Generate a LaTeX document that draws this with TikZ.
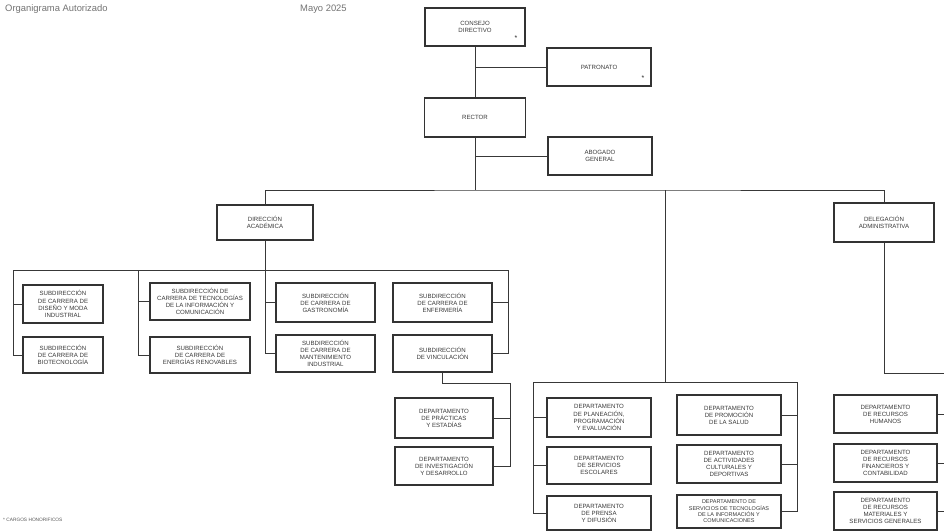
\documentclass[tikz,border=0pt]{standalone}
\usepackage{fontspec}
\setmainfont{Liberation Sans}
\newcommand{\bxfont}{\fontsize{6.1}{7.1}\selectfont}
\newcommand{\smfont}{\fontsize{5.5}{6.4}\selectfont}
\begin{document}
\begin{tikzpicture}[x=1pt,y=-1pt,
  orgbox/.style={draw=black!80, line width=1.2pt, fill=white, inner sep=0pt, align=center,
     text=black!78, font=\bxfont},
  link/.style={draw=black!78, line width=0.9pt},
  hdr/.style={text=black!55, font=\fontsize{9.4}{10}\selectfont, inner sep=0pt, anchor=base west}]
\useasboundingbox (0,0) rectangle (944,532);
\fill[white] (0,0) rectangle (944,532);

% header and footer
\node[hdr] (t1) at (5,12) {Organigrama Autorizado};
\node[hdr] (t2) at (300,12) {Mayo 2025};
\node[text=black!65, font=\fontsize{4.8}{5}\selectfont, inner sep=0pt, anchor=base west] (foot) at (3,521) {* CARGOS HONORIFICOS};

% top level
\node[orgbox, minimum width=100, minimum height=38] (cd) at (475,27) {CONSEJO\\DIRECTIVO};
\node[orgbox, minimum width=104, minimum height=38] (pat) at (599,67) {PATRONATO};
\node[orgbox, minimum width=101, minimum height=39] (rec) at (475,117.5) {RECTOR};
\node[orgbox, minimum width=104, minimum height=38] (abo) at (600,156) {ABOGADO\\GENERAL};
\node[font=\fontsize{7}{7}\selectfont, text=black!85, inner sep=0pt] (ast1) at (516,38) {*};
\node[font=\fontsize{7}{7}\selectfont, text=black!85, inner sep=0pt] (ast2) at (643,78) {*};

% second level
\node[orgbox, minimum width=96, minimum height=35] (da) at (265,222.5) {DIRECCIÓN\\ACADÉMICA};
\node[orgbox, minimum width=100, minimum height=39] (del) at (884,222.5) {DELEGACIÓN\\ADMINISTRATIVA};

% academic subdirections
\node[orgbox, minimum width=80, minimum height=38] (a1) at (63,304) {SUBDIRECCIÓN\\DE CARRERA DE\\DISEÑO Y MODA\\INDUSTRIAL};
\node[orgbox, minimum width=80, minimum height=36] (a2) at (63,355) {SUBDIRECCIÓN\\DE CARRERA DE\\BIOTECNOLOGÍA};
\node[orgbox, minimum width=100, minimum height=37] (b1) at (200,301.5) {SUBDIRECCIÓN DE\\CARRERA DE TECNOLOGÍAS\\DE LA INFORMACIÓN Y\\COMUNICACIÓN};
\node[orgbox, minimum width=100, minimum height=36] (b2) at (200,355) {SUBDIRECCIÓN\\DE CARRERA DE\\ENERGÍAS RENOVABLES};
\node[orgbox, minimum width=99, minimum height=39] (c1) at (325.5,302.5) {SUBDIRECCIÓN\\DE CARRERA DE\\GASTRONOMÍA};
\node[orgbox, minimum width=99, minimum height=37] (c2) at (325.5,353.5) {SUBDIRECCIÓN\\DE CARRERA DE\\MANTENIMIENTO\\INDUSTRIAL};
\node[orgbox, minimum width=99, minimum height=39] (d1) at (442.5,302.5) {SUBDIRECCIÓN\\DE CARRERA DE\\ENFERMERÍA};
\node[orgbox, minimum width=99, minimum height=37] (d2) at (442.5,353.5) {SUBDIRECCIÓN\\DE VINCULACIÓN};

% vinculacion departments
\node[orgbox, minimum width=98, minimum height=40] (v1) at (444,418) {DEPARTAMENTO\\DE PRÁCTICAS\\Y ESTADÍAS};
\node[orgbox, minimum width=98, minimum height=38] (v2) at (444,466) {DEPARTAMENTO\\DE INVESTIGACIÓN\\Y DESARROLLO};

% rector departments
\node[orgbox, minimum width=104, minimum height=39] (p1) at (599,417.5) {DEPARTAMENTO\\DE PLANEACIÓN,\\PROGRAMACIÓN\\Y EVALUACIÓN};
\node[orgbox, minimum width=104, minimum height=37] (p2) at (599,465.5) {DEPARTAMENTO\\DE SERVICIOS\\ESCOLARES};
\node[orgbox, minimum width=104, minimum height=34] (p3) at (599,513) {DEPARTAMENTO\\DE PRENSA\\Y DIFUSIÓN};
\node[orgbox, minimum width=104, minimum height=40] (q1) at (729,415) {DEPARTAMENTO\\DE PROMOCIÓN\\DE LA SALUD};
\node[orgbox, minimum width=104, minimum height=38] (q2) at (729,464) {DEPARTAMENTO\\DE ACTIVIDADES\\CULTURALES Y\\DEPORTIVAS};
\node[orgbox, minimum width=104, minimum height=33, font=\smfont] (q3) at (729,511.5) {DEPARTAMENTO DE\\SERVICIOS DE TECNOLOGÍAS\\DE LA INFORMACIÓN Y\\COMUNICACIONES};

% administrative departments
\node[orgbox, minimum width=103, minimum height=38] (r1) at (885.5,414) {DEPARTAMENTO\\DE RECURSOS\\HUMANOS};
\node[orgbox, minimum width=103, minimum height=38] (r2) at (885.5,463) {DEPARTAMENTO\\DE RECURSOS\\FINANCIEROS Y\\CONTABILIDAD};
\node[orgbox, minimum width=103, minimum height=38] (r3) at (885.5,511) {DEPARTAMENTO\\DE RECURSOS\\MATERIALES Y\\SERVICIOS GENERALES};

% coordinates
\coordinate (bus) at (600,190);
\coordinate (cdrop) at (665,190);
\coordinate (cbus) at (665,382);
\coordinate (cL) at (533,382);
\coordinate (cR) at (797,382);
\coordinate (aL) at (13,270);
\coordinate (aB) at (138,270);
\coordinate (aR) at (508,270);
\coordinate (vR) at (510,383);
\coordinate (dR) at (944,373);

% top connectors
\draw[link] (cd.south) -- (rec.north);
\draw[link] (cd.south |- pat.west) -- (pat.west);
\draw[link] (rec.south |- abo.west) -- (abo.west);
\draw[link] (rec.south) -- (rec.south |- bus);
\draw[link] (da.north) |- (bus) -| (del.north);
\draw[link] (cdrop) -- (cbus);

% academic connectors
\draw[link] (aL) -- (aR);
\draw[link] (aL) |- (a2.west);
\draw[link] (aL |- a1.west) -- (a1.west);
\draw[link] (aB) |- (b2.west);
\draw[link] (aB |- b1.west) -- (b1.west);
\draw[link] (da.south) |- (c2.west);
\draw[link] (da.south |- c1.west) -- (c1.west);
\draw[link] (aR) |- (d2.east);
\draw[link] (aR |- d1.east) -- (d1.east);

% vinculacion connectors
\draw[link] (d2.south) |- (vR) |- (v2.east);
\draw[link] (vR |- v1.east) -- (v1.east);

% rector departments connectors
\draw[link] (cL) -- (cR);
\draw[link] (cL) |- (p3.west);
\draw[link] (cL |- p1.west) -- (p1.west);
\draw[link] (cL |- p2.west) -- (p2.west);
\draw[link] (cR) |- (q3.east);
\draw[link] (cR |- q1.east) -- (q1.east);
\draw[link] (cR |- q2.east) -- (q2.east);

% administrative connectors
\draw[link] (del.south) |- (dR);
\draw[link] (r1.east) -- (r1.east -| dR);
\draw[link] (r2.east) -- (r2.east -| dR);
\draw[link] (r3.east) -- (r3.east -| dR);
\end{tikzpicture}
\end{document}
